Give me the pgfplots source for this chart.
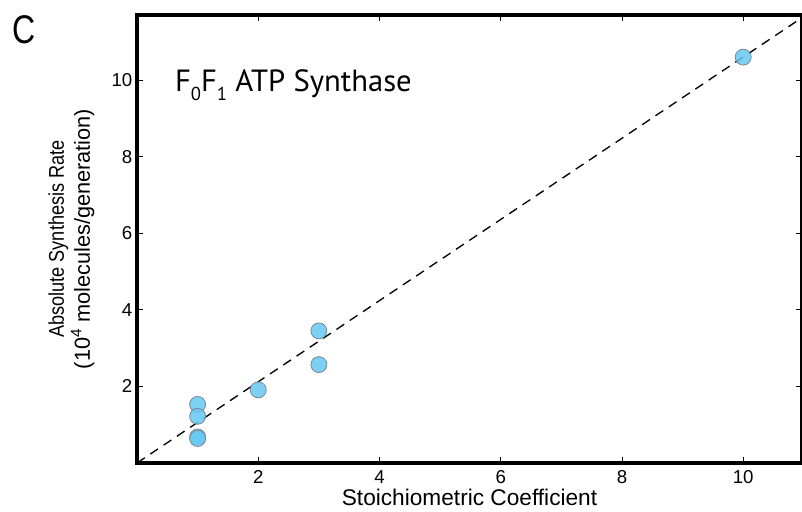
\documentclass[border=0pt]{standalone}
\usepackage{pgfplots}
\pgfplotsset{compat=1.18}
\usepackage{fontspec}
\setmainfont{Liberation Sans}
\newfontfamily\titlefont{PT Sans}
\definecolor{dotblue}{RGB}{100,200,242}
\definecolor{dotedge}{RGB}{125,135,145}
\begin{document}
\begin{tikzpicture}
\begin{axis}[
    name=ax,
    scale only axis,
    width=498.75pt, height=336pt,
    xmin=0, xmax=10.97,
    ymin=0, ymax=11.7,
    xtick={2,4,6,8,10},
    ytick={2,4,6,8,10},
    tick align=inside,
    major tick length=4.5pt,
    axis line style={line width=2.8pt},
    tick style={line width=0.6pt, black},
    ticklabel style={font=\fontsize{14}{16}\selectfont},
    xticklabel style={yshift=-2pt},
    /pgf/number format/assume math mode=true,
    xlabel={Stoichiometric Coefficient},
    xlabel style={font=\fontsize{17}{19}\selectfont, yshift=3pt},
    ylabel={\scalebox{0.85}[1]{\fontsize{16}{18}\selectfont Absolute Synthesis Rate}\\[1pt]\fontsize{16.3}{18}\selectfont (10\textsuperscript{4} molecules/generation)},
    ylabel style={align=center, yshift=6pt},
    clip=false,
]
\addplot[black, line width=1pt, dash pattern=on 7pt off 5pt] coordinates {(0,0) (10.97,11.63)};
\addplot[only marks, mark=*, mark size=6pt,
    mark options={fill=dotblue, draw=dotedge, line width=0.6pt, fill opacity=0.85}]
    coordinates {
    (1,1.53) (1,1.22) (1,0.68) (1,0.64) (2,1.91) (3,3.45) (3,2.57) (10,10.6)
    };
\node[anchor=west, font=\titlefont\fontsize{23}{25}\selectfont] at (axis cs:0.55,9.87)
    {F\raisebox{-0.55ex}{\fontsize{14}{14}\selectfont 0}F\raisebox{-0.55ex}{\fontsize{14}{14}\selectfont 1} ATP Synthase};
\end{axis}
\node[anchor=north west, font=\fontsize{30}{32}\selectfont, inner sep=0pt] at ([xshift=-93.5pt, yshift=0pt]ax.north west) {\scalebox{0.8}[1]{C}};
\pgfresetboundingbox
\path ([xshift=-102.75pt, yshift=-36.75pt]ax.south west) rectangle ([yshift=11.25pt]ax.north east);
\end{tikzpicture}
\end{document}
